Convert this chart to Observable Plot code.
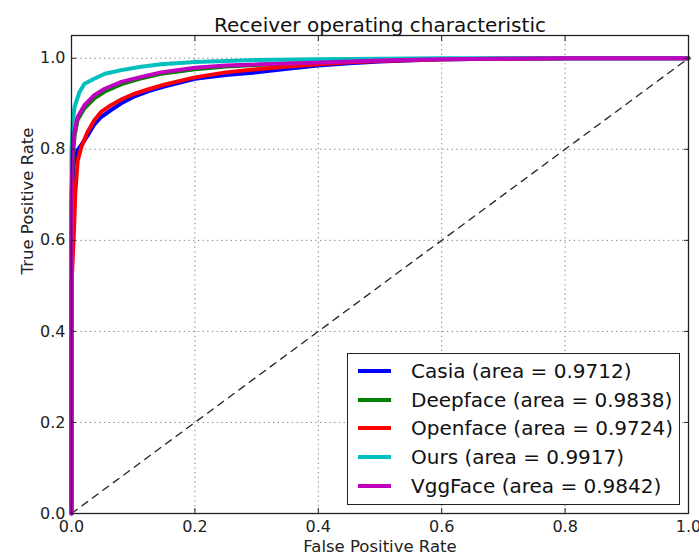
<!DOCTYPE html>
<html>
<head>
<meta charset="utf-8">
<script src="https://cdn.jsdelivr.net/npm/d3@7"></script>
<script src="https://cdn.jsdelivr.net/npm/@observablehq/plot@0.6"></script>
<style>
  html, body { margin: 0; padding: 0; background: #fff; }
  #wrap { position: relative; width: 699px; height: 556px; font-family: "DejaVu Sans", sans-serif; }
  #legend { position: absolute; left: 347px; top: 353px; width: 333px; height: 152px;
            border: 1.5px solid #222; background: #fff; box-sizing: border-box; }
  .item { position: absolute; left: 10px; height: 28px; display: flex; align-items: center; }
  .swatch { width: 33px; height: 4px; margin-right: 20px; }
  .label { font-size: 20px; color: #111; white-space: nowrap; }
</style>
</head>
<body>
<div id="wrap"></div>
<script>
// ---- data ----
const seriesNames = ["Casia", "Deepface", "Openface", "Ours", "VggFace"];
const seriesAreas = ["0.9712", "0.9838", "0.9724", "0.9917", "0.9842"];
const seriesColors = ["#0000ff", "#008000", "#ff0000", "#00bfbf", "#bf00bf"];

const casiaFpr = [0, 0, 0.001, 0.003, 0.006, 0.01, 0.016, 0.026, 0.037, 0.048, 0.064, 0.083, 0.1, 0.125, 0.15, 0.2, 0.25, 0.3, 0.35, 0.4, 0.45, 0.5, 0.6, 0.7, 0.8, 0.9, 1.0];
const casiaTpr = [0, 0.6, 0.7, 0.76, 0.785, 0.798, 0.81, 0.83, 0.855, 0.871, 0.886, 0.903, 0.915, 0.928, 0.938, 0.955, 0.963, 0.969, 0.977, 0.984, 0.989, 0.993, 0.998, 0.999, 1, 1, 1];

const deepfaceFpr = [0, 0, 0.002, 0.005, 0.01, 0.021, 0.037, 0.054, 0.081, 0.11, 0.145, 0.2, 0.25, 0.31, 0.39, 0.5, 0.6, 0.7, 0.8, 1.0];
const deepfaceTpr = [0, 0.68, 0.78, 0.83, 0.865, 0.89, 0.912, 0.927, 0.943, 0.955, 0.966, 0.976, 0.982, 0.986, 0.99, 0.995, 0.998, 0.999, 1, 1];

const openfaceFpr = [0, 0, 0.002, 0.004, 0.006, 0.01, 0.016, 0.026, 0.037, 0.048, 0.064, 0.083, 0.1, 0.125, 0.15, 0.2, 0.25, 0.3, 0.35, 0.4, 0.45, 0.5, 0.6, 0.7, 0.8, 0.9, 1.0];
const openfaceTpr = [0, 0.5, 0.56, 0.62, 0.7, 0.775, 0.805, 0.838, 0.864, 0.882, 0.897, 0.911, 0.921, 0.932, 0.942, 0.958, 0.969, 0.976, 0.982, 0.987, 0.991, 0.994, 0.998, 0.999, 1, 1, 1];

const oursFpr = [0, 0, 0.002, 0.005, 0.013, 0.021, 0.037, 0.054, 0.081, 0.11, 0.145, 0.2, 0.3, 0.4, 0.5, 0.6, 0.8, 1.0];
const oursTpr = [0, 0.8, 0.86, 0.893, 0.926, 0.944, 0.955, 0.966, 0.974, 0.981, 0.987, 0.992, 0.996, 0.998, 0.999, 1, 1, 1];

const vggFpr = [0, 0, 0.002, 0.005, 0.01, 0.021, 0.037, 0.054, 0.081, 0.11, 0.145, 0.2, 0.25, 0.31, 0.39, 0.5, 0.6, 0.7, 0.8, 1.0];
const vggTpr = [0, 0.7, 0.8, 0.84, 0.871, 0.897, 0.919, 0.933, 0.948, 0.958, 0.969, 0.979, 0.984, 0.987, 0.99, 0.995, 0.998, 0.999, 1, 1];

const diagonal = [0, 1];
const xTicks = [0, 0.2, 0.4, 0.6, 0.8, 1.0];
const yTicks = [0, 0.2, 0.4, 0.6, 0.8, 1.0];

const titleText = "Receiver operating characteristic";
const xLabel = "False Positive Rate";
const yLabel = "True Positive Rate";

// ---- build table ----
const fprs = [casiaFpr, deepfaceFpr, openfaceFpr, oursFpr, vggFpr];
const tprs = [casiaTpr, deepfaceTpr, openfaceTpr, oursTpr, vggTpr];
const rows = [];
seriesNames.forEach((name, i) => {
  fprs[i].forEach((f, j) => rows.push({series: name, fpr: f, tpr: tprs[i][j]}));
});
const diagRows = diagonal.map(v => ({x: v, y: v}));

const fmt = d3.format(".1f");
const font = "DejaVu Sans, sans-serif";

const chart = Plot.plot({
  width: 699,
  height: 556,
  marginLeft: 71,
  marginRight: 11,
  marginTop: 35,
  marginBottom: 43,
  style: {fontFamily: font, fontSize: "16px", color: "#222", background: "#fff", overflow: "visible"},
  x: {domain: [0, 1]},
  y: {domain: [0, 1.05]},
  color: {domain: seriesNames, range: seriesColors},
  marks: [
    Plot.gridX(xTicks, {stroke: "#777", strokeOpacity: 1, strokeDasharray: "1.2,3.5", strokeWidth: 1}),
    Plot.gridY(yTicks, {stroke: "#777", strokeOpacity: 1, strokeDasharray: "1.2,3.5", strokeWidth: 1}),
    Plot.line(diagRows, {x: "x", y: "y", stroke: "#222", strokeWidth: 1.3, strokeDasharray: "7,6"}),
    Plot.line(rows, {x: "fpr", y: "tpr", z: "series", stroke: "series", strokeWidth: 4, strokeLinejoin: "round"}),
    Plot.axisX(xTicks, {anchor: "bottom", tickSize: 0, tickPadding: 7, tickFormat: fmt, fontSize: 16, label: null}),
    Plot.axisY(yTicks, {anchor: "left", tickSize: 0, tickPadding: 6, tickFormat: fmt, fontSize: 16, label: null}),
    Plot.axisX(xTicks, {anchor: "bottom", tickSize: -5, text: null, label: null, stroke: "#222"}),
    Plot.axisX(xTicks, {anchor: "top", tickSize: -5, text: null, label: null, stroke: "#222"}),
    Plot.axisY(yTicks, {anchor: "left", tickSize: -5, text: null, label: null, stroke: "#222"}),
    Plot.axisY(yTicks, {anchor: "right", tickSize: -5, text: null, label: null, stroke: "#222"}),
    Plot.frame({stroke: "#222", strokeWidth: 1.3}),
    Plot.text([titleText], {frameAnchor: "top", dy: -18, fontSize: 20, fill: "#111"}),
    Plot.text([xLabel], {frameAnchor: "bottom", dy: 38, fontSize: 16.5, fill: "#222"}),
    Plot.text([yLabel], {frameAnchor: "left", dx: -44, rotate: -90, fontSize: 16.5, fill: "#222"})
  ]
});

const wrap = document.getElementById("wrap");
wrap.appendChild(chart);

// legend
const legend = document.createElement("div");
legend.id = "legend";
seriesNames.forEach((name, i) => {
  const item = document.createElement("div");
  item.className = "item";
  item.style.top = (3 + i * 28.7) + "px";
  const sw = document.createElement("div");
  sw.className = "swatch";
  sw.style.background = seriesColors[i];
  const lb = document.createElement("span");
  lb.className = "label";
  lb.textContent = `${name} (area = ${seriesAreas[i]})`;
  item.appendChild(sw);
  item.appendChild(lb);
  legend.appendChild(item);
});
wrap.appendChild(legend);
</script>
</body>
</html>
